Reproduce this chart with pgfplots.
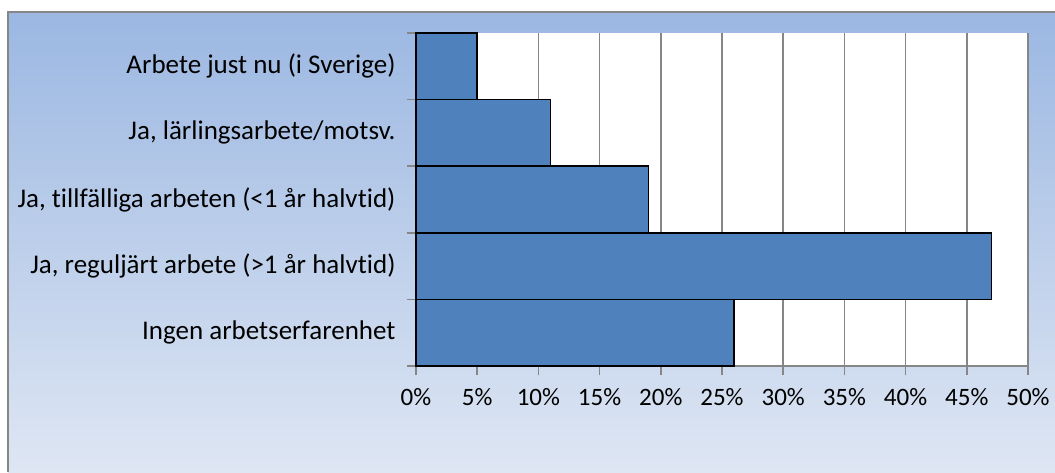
\documentclass[border=0pt]{standalone}
\usepackage{pgfplots}
\pgfplotsset{compat=1.18}
\usepackage{fontspec}
\setmainfont{Carlito}[Ligatures=NoCommon]
\definecolor{barblue}{HTML}{4F81BD}
\definecolor{bgtop}{HTML}{9BB7E2}
\definecolor{bgbot}{HTML}{DEE6F3}
\definecolor{gridgray}{HTML}{868686}
\begin{document}
\begin{tikzpicture}
\path[use as bounding box] (0pt,0pt) rectangle (1055pt,472pt);
\shade[top color=bgtop,bottom color=bgbot] (8pt,0pt) rectangle (1055pt,460pt);
\draw[gridgray,line width=1.5pt] (8pt,0pt) -- (8pt,460pt) -- (1055pt,460pt);
\begin{axis}[
  at={(416pt,106pt)}, anchor=south west,
  scale only axis, width=612pt, height=333pt,
  xmin=0, xmax=50, ymin=-0.5, ymax=4.5,
  axis x line=bottom, axis y line=left,
  axis line style={gridgray,line width=1.5pt,-},
  axis background/.style={fill=white},
  xtick={0,5,...,50},
  xticklabels={0\%,5\%,10\%,15\%,20\%,25\%,30\%,35\%,40\%,45\%,50\%},
  ytick={-0.5,0.5,1.5,2.5,3.5,4.5},
  yticklabels={},
  extra y ticks={0,1,2,3,4},
  extra y tick labels={Ingen arbetserfarenhet,{Ja, reguljärt arbete (>1 år halvtid)},{Ja, tillfälliga arbeten (<1 år halvtid)},{Ja, lärlingsarbete/motsv.},Arbete just nu (i Sverige)},
  extra y tick style={major tick length=0pt, yticklabel style={xshift=-17pt}},
  every tick/.style={gridgray,line width=1.5pt},
  xtick align=outside, ytick align=outside, major tick length=9pt,
  xmajorgrids, major grid style={gridgray,line width=1.5pt},
  yticklabel style={font=\fontsize{27}{32}\selectfont, text=black},
  xticklabel style={font=\fontsize{25}{30}\selectfont, text=black, yshift=-10pt},
  clip=false,
]
\addplot[xbar, bar width=1, fill=barblue, draw=black, line width=1.5pt] coordinates {
  (26,0) (47,1) (19,2) (11,3) (5,4)
};
\end{axis}
\end{tikzpicture}
\end{document}
